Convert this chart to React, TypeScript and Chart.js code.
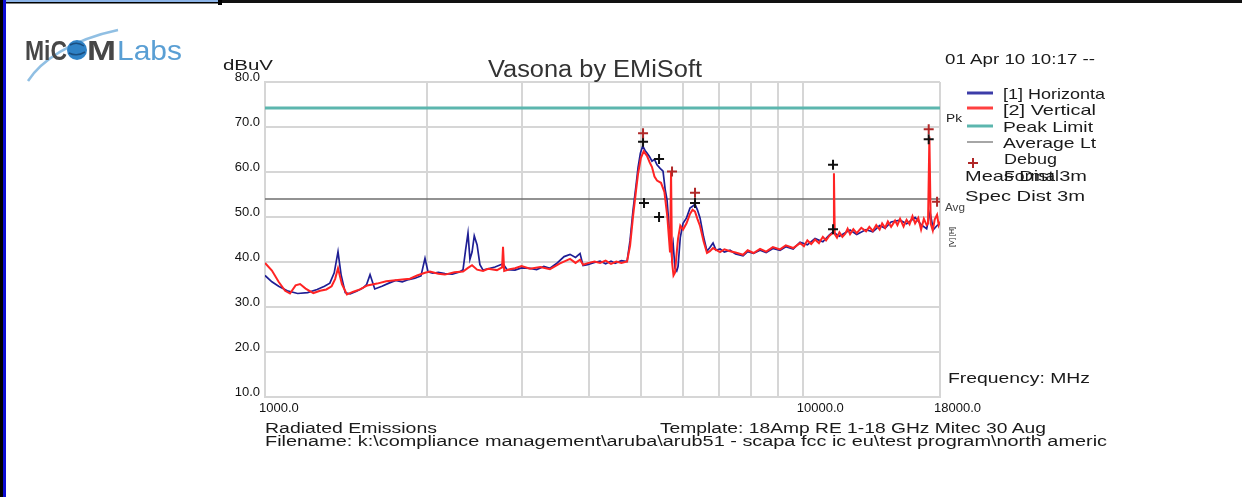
import React, { useEffect, useRef } from 'react';
import { Chart, registerables } from 'chart.js';

Chart.register(...registerables);

// ---- Data (frequency in MHz, level in dBuV) ----
const hFreq = [1000, 1030, 1060, 1100, 1150, 1200, 1250, 1290, 1320, 1345, 1367, 1385, 1410, 1440, 1480, 1520, 1545, 1568, 1600, 1650, 1700, 1750, 1800, 1850, 1900, 1950, 1984, 2010, 2050, 2100, 2160, 2230, 2300, 2335, 2360, 2385, 2405, 2427, 2450, 2480, 2510, 2544, 2600, 2678, 2771, 2820, 2917, 3000, 3111, 3200, 3300, 3388, 3480, 3600, 3692, 3780, 3854, 3904, 3980, 4100, 4198, 4300, 4400, 4477, 4600, 4713, 4774, 4836, 4900, 4940, 4990, 5040, 5090, 5133, 5190, 5244, 5300, 5358, 5430, 5498, 5550, 5593, 5640, 5665, 5700, 5740, 5787, 5830, 5863, 5920, 5990, 6080, 6171, 6240, 6305, 6370, 6442, 6540, 6637, 6720, 6811, 6900, 7018, 7150, 7325, 7500, 7745, 7900, 8100, 8330, 8550, 8800, 9074, 9300, 9600, 9886, 10200, 10541, 10900, 11200, 11385, 11700, 12000, 12246, 12600, 13117, 13500, 13900, 14227, 14600, 15171, 15600, 16180, 16600, 17000, 17250, 17500, 17775, 18000];
const hLevel = [37.0, 35.6, 34.6, 33.6, 33.0, 33.2, 33.9, 34.6, 35.3, 37.6, 42.3, 37.2, 33.2, 32.9, 33.5, 34.2, 35.0, 37.2, 34.0, 34.6, 35.3, 35.9, 35.6, 36.1, 36.4, 36.9, 40.8, 37.8, 37.5, 37.7, 37.4, 37.3, 37.8, 38.3, 42.6, 46.4, 40.6, 42.2, 45.8, 43.8, 39.4, 38.2, 38.5, 38.9, 39.6, 38.3, 38.2, 38.7, 38.6, 38.3, 39.0, 38.6, 39.6, 41.2, 41.7, 41.0, 41.9, 39.2, 39.4, 39.9, 40.2, 39.6, 40.2, 39.7, 40.3, 40.1, 44.8, 51.6, 57.2, 61.0, 64.2, 65.8, 64.8, 64.2, 63.4, 62.4, 62.8, 61.6, 60.8, 60.2, 56.0, 53.8, 48.0, 46.4, 42.0, 44.2, 38.6, 38.0, 39.0, 45.5, 48.6, 49.8, 52.0, 52.4, 52.8, 51.6, 49.8, 45.6, 42.4, 43.2, 44.2, 42.6, 42.9, 42.2, 42.6, 41.8, 41.4, 42.3, 41.9, 42.6, 42.1, 43.0, 42.6, 43.4, 42.9, 44.4, 43.8, 45.2, 44.5, 46.0, 46.7, 45.7, 46.5, 47.1, 46.1, 47.2, 46.7, 48.1, 47.5, 48.9, 49.3, 48.5, 49.9, 48.3, 47.4, 51.0, 47.2, 48.1, 48.6];

const vFreq = [1000, 1030, 1060, 1090, 1113, 1140, 1162, 1190, 1230, 1266, 1300, 1330, 1350, 1367, 1390, 1420, 1460, 1502, 1550, 1616, 1680, 1730, 1800, 1860, 1918, 1984, 2027, 2100, 2161, 2250, 2335, 2385, 2427, 2480, 2544, 2600, 2700, 2760, 2771, 2785, 2850, 2917, 3000, 3111, 3250, 3388, 3537, 3692, 3780, 3854, 3904, 4000, 4100, 4198, 4300, 4400, 4500, 4600, 4713, 4774, 4836, 4900, 4940, 5000, 5060, 5133, 5190, 5244, 5300, 5358, 5450, 5530, 5600, 5640, 5665, 5690, 5714, 5750, 5787, 5830, 5863, 5920, 5990, 6080, 6171, 6240, 6305, 6370, 6442, 6540, 6637, 6720, 6811, 6900, 7018, 7150, 7325, 7500, 7745, 7900, 8100, 8330, 8550, 8800, 9074, 9300, 9600, 9886, 10050, 10200, 10370, 10541, 10720, 10900, 11050, 11200, 11385, 11430, 11470, 11580, 11700, 11850, 12000, 12120, 12246, 12420, 12600, 12850, 13117, 13300, 13500, 13700, 13900, 14050, 14227, 14400, 14600, 14850, 15000, 15171, 15400, 15600, 15800, 16000, 16180, 16400, 16600, 16800, 17000, 17100, 17200, 17300, 17450, 17600, 17775, 17900, 18000];
const vLevel = [39.8, 38.1, 35.6, 33.6, 33.0, 34.8, 35.1, 34.1, 33.1, 33.6, 33.9, 34.6, 36.2, 38.6, 35.1, 32.8, 33.4, 33.9, 34.8, 35.2, 35.7, 35.9, 36.1, 36.3, 37.0, 37.6, 37.9, 37.4, 37.2, 37.7, 37.9, 38.7, 39.3, 38.3, 38.0, 38.5, 38.2, 38.8, 43.4, 38.0, 38.4, 38.6, 39.1, 38.5, 38.9, 38.4, 39.7, 40.7, 39.8, 40.5, 39.4, 39.8, 40.1, 39.8, 40.3, 39.6, 40.1, 39.8, 40.1, 43.6, 50.2, 56.1, 59.6, 63.1, 64.6, 63.6, 62.2, 61.1, 59.0, 58.1, 57.6, 55.6, 50.1, 45.2, 42.1, 60.1, 40.0, 37.0, 37.6, 42.1, 45.2, 48.1, 47.2, 48.6, 50.7, 51.6, 51.2, 49.6, 48.0, 44.6, 42.0, 42.4, 43.1, 42.7, 42.2, 42.8, 42.4, 42.1, 41.6, 42.6, 42.0, 42.9, 42.3, 43.3, 42.8, 43.7, 43.1, 44.2, 43.5, 44.8, 44.0, 45.0, 44.2, 45.6, 44.8, 45.8, 46.5, 59.7, 46.2, 45.4, 46.6, 45.6, 46.3, 47.4, 46.2, 47.3, 46.4, 47.6, 46.8, 47.8, 46.9, 48.2, 47.2, 48.6, 47.6, 49.0, 47.8, 49.2, 48.2, 49.6, 47.9, 49.4, 48.4, 50.2, 48.6, 49.8, 47.2, 49.6, 48.2, 48.6, 67.9, 48.5, 47.0, 49.5, 50.5, 48.2, 49.0];

const limitFreq = [1000, 18000];
const peakLimit = [74.2, 74.2];
const averageLimit = [54.0, 54.0];

const formalFreq = [5047, 5405, 5068, 5405, 6305, 11385, 11385, 17150];
const formalLevel = [66.7, 62.9, 53.1, 50.0, 53.1, 61.6, 47.3, 67.3];
const debugFreq = [5047, 5714, 6305, 17150, 17775];
const debugLevel = [68.6, 60.1, 55.4, 69.5, 53.4];

const xTickValues = [1000, 2000, 3000, 4000, 5000, 6000, 7000, 8000, 9000, 10000, 18000];
const xLabelledTicks = [1000, 10000, 18000];
const yTickValues = [10, 20, 30, 40, 50, 60, 70, 80];

const zip = (xs: number[], ys: number[]) => xs.map((x, i) => ({ x, y: ys[i] }));

const FONT = '"Liberation Sans", Arial, sans-serif';
const GRID = '#d6d6d6';

function ChartCanvas() {
  const ref = useRef<HTMLCanvasElement | null>(null);
  useEffect(() => {
    if (!ref.current) return;
    const chart = new Chart(ref.current, {
      type: 'line',
      data: {
        datasets: [
          { label: 'Debug', data: zip(debugFreq, debugLevel), showLine: false, pointStyle: 'cross', pointRadius: 5, pointBorderWidth: 2, pointBorderColor: '#b02828', borderColor: '#b02828', order: -2 },
          { label: 'Formal', data: zip(formalFreq, formalLevel), showLine: false, pointStyle: 'cross', pointRadius: 5, pointBorderWidth: 2, pointBorderColor: '#111', borderColor: '#111', order: -1 },
          { label: '[2] Vertical', data: zip(vFreq, vLevel), borderColor: '#ff2424', borderWidth: 2, pointRadius: 0, tension: 0, order: 0 },
          { label: '[1] Horizontal', data: zip(hFreq, hLevel), borderColor: '#1e1e94', borderWidth: 1.7, pointRadius: 0, tension: 0, order: 1 },
          { label: 'Average Lt', data: zip(limitFreq, averageLimit), borderColor: '#6e6e6e', borderWidth: 1.3, pointRadius: 0, order: 2 },
          { label: 'Peak Limit', data: zip(limitFreq, peakLimit), borderColor: '#5cb6ae', borderWidth: 3, pointRadius: 0, order: 3 },
        ],
      } as any,
      options: {
        responsive: false,
        animation: false,
        layout: { padding: { left: 205, right: 302, top: 82, bottom: 70 } },
        plugins: { legend: { display: false }, tooltip: { enabled: false }, title: { display: false } },
        scales: {
          x: {
            type: 'logarithmic',
            min: 1000,
            max: 18000,
            afterBuildTicks: (s: any) => { s.ticks = xTickValues.map((v) => ({ value: v })); },
            afterFit: (s: any) => { s.height = 30; },
            grid: { color: GRID, lineWidth: 2, drawTicks: false },
            border: { color: GRID, width: 2 },
            ticks: {
              autoSkip: false, maxRotation: 0, minRotation: 0, align: 'start', labelOffset: -6, padding: 4,
              font: { family: FONT, size: 13 }, color: '#111',
              callback: (v: any) => (xLabelledTicks.includes(Number(v)) ? Number(v).toFixed(1) : ''),
            },
          },
          y: {
            type: 'linear',
            min: 10,
            max: 80,
            afterBuildTicks: (s: any) => { s.ticks = yTickValues.map((v) => ({ value: v })); },
            afterFit: (s: any) => { s.width = 60; },
            grid: { color: GRID, lineWidth: 2, drawTicks: false },
            border: { color: GRID, width: 2 },
            ticks: {
              padding: 5, labelOffset: -5,
              font: { family: FONT, size: 13 }, color: '#111',
              callback: (v: any) => Number(v).toFixed(1),
            },
          },
        },
      } as any,
    });
    return () => chart.destroy();
  }, []);
  return <canvas ref={ref} width={1242} height={497} style={{ position: 'absolute', left: 0, top: 0, display: 'block' }} />;
}

type TProps = { x: number; y: number; w: number; size: number; children: React.ReactNode; fill?: string; weight?: string | number };
function T({ x, y, w, size, children, fill = '#1a1a1a', weight = 'normal' }: TProps) {
  return (
    <text x={x} y={y} textLength={w} lengthAdjust="spacingAndGlyphs" fontSize={size} fontFamily={FONT} fill={fill} fontWeight={weight as any}>
      {children}
    </text>
  );
}

function Overlay() {
  return (
    <svg width={1242} height={497} style={{ position: 'absolute', left: 0, top: 0, pointerEvents: 'none' }}>
      {/* page frame */}
      <rect x={0} y={0} width={3} height={497} fill="#000" />
      <rect x={3} y={0} width={3} height={497} fill="#0c0cd4" />
      <rect x={6} y={0} width={212} height={2} fill="#8cb4e8" />
      <rect x={6} y={2} width={212} height={1.5} fill="#000" />
      <rect x={218} y={0} width={1024} height={3} fill="#111" />
      <rect x={218} y={0} width={4} height={5} fill="#000" />

      {/* logo */}
      <path d="M 28 81 C 40 62, 70 40, 118 30" stroke="#7db4de" strokeWidth={2.5} fill="none" opacity={0.85} />
      <T x={25} y={60} w={42} size={28} fill="#474747" weight="bold">MiC</T>
      <circle cx={77} cy={50} r={10} fill="#2f82c6" />
      <path d="M 70 45 Q 77 41 84 46 M 69 53 Q 77 57 85 52" stroke="#1b4f80" strokeWidth={1.5} fill="none" />
      <T x={87} y={60} w={29} size={28} fill="#474747" weight="bold">M</T>
      <T x={117} y={60} w={65} size={28} fill="#5a9fd4">Labs</T>

      {/* header */}
      <T x={223} y={70} w={50} size={14}>dBuV</T>
      <T x={488} y={77} w={214} size={23} fill="#333">Vasona by EMiSoft</T>
      <T x={945} y={64} w={150} size={14}>01 Apr 10 10:17 --</T>

      {/* legend */}
      <line x1={967} y1={93} x2={993} y2={93} stroke="#3c3ca8" strokeWidth={3} />
      <line x1={967} y1={108} x2={993} y2={108} stroke="#ff4040" strokeWidth={3} />
      <line x1={967} y1={126} x2={993} y2={126} stroke="#5cb6ae" strokeWidth={3} />
      <line x1={967} y1={142} x2={993} y2={142} stroke="#888" strokeWidth={1.5} />
      <path d="M 968 163 L 978 163 M 973 158 L 973 168" stroke="#b02828" strokeWidth={2} />
      <T x={1003} y={99} w={102} size={15}>[1] Horizonta</T>
      <T x={1003} y={115} w={93} size={15}>[2] Vertical</T>
      <T x={1003} y={132} w={90} size={15}>Peak Limit</T>
      <T x={1003} y={148} w={93} size={15}>Average Lt</T>
      <T x={1004} y={164} w={53} size={15}>Debug</T>
      <T x={1004} y={181} w={55} size={15}>Formal</T>
      <T x={965} y={181} w={122} size={15}>Meas Dist 3m</T>
      <T x={965} y={201} w={120} size={15}>Spec Dist 3m</T>

      {/* limit tags */}
      <T x={946} y={122} w={16} size={11}>Pk</T>
      <T x={945} y={211} w={20} size={11} fill="#444">Avg</T>
      <g transform="translate(954,247) rotate(-90)">
        <T x={0} y={0} w={9} size={8}>[V]</T>
        <T x={11} y={0} w={9} size={8}>[H]</T>
      </g>

      <T x={948} y={383} w={142} size={15}>Frequency: MHz</T>

      {/* footer */}
      <T x={265} y={433} w={172} size={14}>Radiated Emissions</T>
      <T x={660} y={433} w={386} size={14}>Template: 18Amp RE 1-18 GHz Mitec 30 Aug</T>
      <T x={265} y={446} w={842} size={14}>{'Filename: k:\\compliance management\\aruba\\arub51 - scapa fcc ic eu\\test program\\north americ'}</T>
    </svg>
  );
}

export default function App() {
  return (
    <div style={{ position: 'absolute', left: 0, top: 0, width: 1242, height: 497, background: '#fff', overflow: 'hidden' }}>
      <ChartCanvas />
      <Overlay />
    </div>
  );
}
